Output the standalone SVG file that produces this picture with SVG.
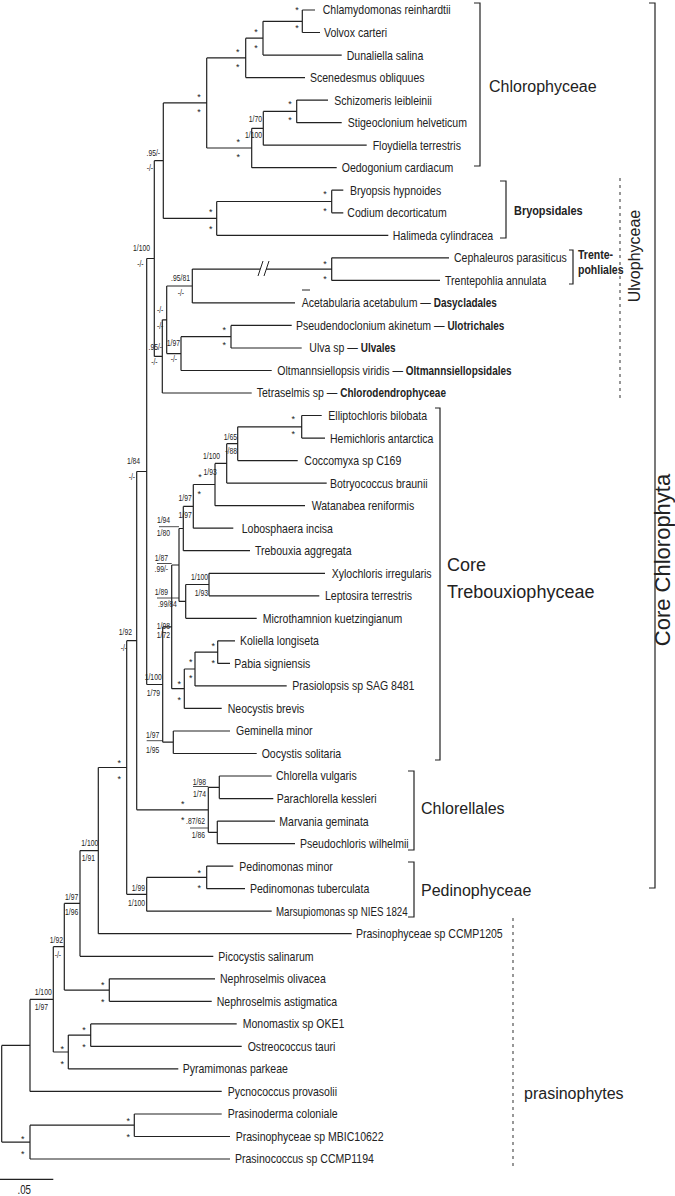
<svg xmlns="http://www.w3.org/2000/svg" width="675" height="1196" viewBox="0 0 675 1196">
<style>
.t{font-family:"Liberation Sans",Arial,sans-serif;font-size:13px;fill:#222;transform-box:fill-box;transform-origin:0 0;transform:scaleX(.81)}
.b{font-weight:bold}
.bt{font-weight:bold;font-size:12.3px}
.s{font-family:"Liberation Sans",Arial,sans-serif;font-size:8.5px;fill:#222;text-anchor:end;transform-box:fill-box;transform-origin:100% 0;transform:scaleX(.8)}
.st{font-family:"Liberation Sans",Arial,sans-serif;font-size:9px;fill:#222;text-anchor:middle}
.g{font-family:"Liberation Sans",Arial,sans-serif;font-size:16px;fill:#222}
.br{fill:none;stroke:#222;stroke-width:1.2}
.dot{fill:none;stroke:#444;stroke-width:1.1;stroke-dasharray:3 4}
</style>
<rect width="675" height="1196" fill="#fff"/>
<g id="connectors" class="br">
<path d="M302.3,10H315M302.3,32.5H320M263,55.1H341.7M245.7,77.6H305M296.7,100.1H328M296.7,122.7H341.7M263.3,145.2H366.7M251.7,167.7H336.7M331.7,190.2H343.3M331.7,212.8H343.3M216.7,235.3H388.3M331.7,257.8H449M331.7,280.4H440M192.3,302.9H295M231,325.4H291.7M231,348H301.7M181,370.5H271.7M162.3,393H251.7M301.7,415.5H321.7M301.7,438.1H325M237.7,460.6H297.7M226.7,483.1H326.7M215,505.7H305M193.3,528.2H233.3M183.3,550.7H250M209,573.3H325M209,595.8H319.3M185.7,618.3H256.7M217.7,640.8H235M217.7,663.4H230M195,685.9H286.7M184.3,708.4H221.7M173.3,731H230M173.3,753.5H256.7M219.3,776H271.7M219.3,798.6H273.3M217.3,821.1H275M217.3,843.6H295M206.7,866.1H233.3M206.7,888.7H245M146.7,911.2H271.7M98.3,933.7H351.7M80,956.3H213.3M109.3,978.8H215M109.3,1001.3H211.7M90.7,1023.9H236.7M90.7,1046.4H241.7M68.3,1068.9H178.3M30,1091.4H221.7M134.3,1114H221.7M134.3,1136.5H230M30,1159H230"/>
<path d="M302.3,10V32.5M263,21.3H302.3M263,21.3V55.1M245.7,38.2H263M245.7,38.2V77.6M206.7,57.9H245.7M296.7,100.1V122.7M263.3,111.4H296.7M263.3,111.4V145.2M251.7,128.3H263.3M251.7,128.3V167.7M206.7,148H251.7M206.7,57.9V148M163.3,102.9H206.7M331.7,190.2V212.8M216.7,201.5H331.7M216.7,201.5V235.3M163.3,218.4H216.7M163.3,102.9V218.4M154.3,160.7H163.3M331.7,257.8V280.4M192.3,269.1H260M266,269.1H331.7M192.3,269.1V302.9M166.7,286H192.3M231,325.4V348M181,336.7H231M181,336.7V370.5M166.7,353.6H181M166.7,286V353.6M162.3,319.8H166.7M162.3,319.8V393M154.3,356.4H162.3M154.3,160.7V356.4M146.7,258.5H154.3"/>
<path d="M301.7,415.5V438.1M237.7,426.8H301.7M237.7,426.8V460.6M226.7,443.7H237.7M226.7,443.7V483.1M215,463.4H226.7M215,463.4V505.7M193.3,484.5H215M193.3,484.5V528.2M183.3,506.4H193.3M183.3,506.4V550.7M179,528.5H183.3M209,573.3V595.8M185.7,584.5H209M185.7,584.5V618.3M179,601.4H185.7M179,528.5V601.4M171.7,565H179M217.7,640.8V663.4M195,652.1H217.7M195,652.1V685.9M184.3,669H195M184.3,669V708.4M171.7,688.7H184.3M171.7,565V688.7M162.7,626.8H171.7M173.3,731V753.5M162.7,742.2H173.3M162.7,626.8V742.2M146.7,684.5H162.7M146.7,258.5V684.5M136.7,471.5H146.7"/>
<path d="M219.3,776V798.6M208.3,787.3H219.3M217.3,821.1V843.6M208.3,832.3H217.3M208.3,787.3V832.3M136.7,809.8H208.3M136.7,471.5V809.8M126.7,640.7H136.7M206.7,866.1V888.7M146.7,877.4H206.7M146.7,877.4V911.2M126.7,894.3H146.7M126.7,640.7V894.3M98.3,767.5H126.7M98.3,767.5V933.7M80,850.6H98.3M80,850.6V956.3M64.3,903.4H80M109.3,978.8V1001.3M64.3,990.1H109.3M64.3,903.4V990.1M53.3,946.7H64.3M90.7,1023.9V1046.4M68.3,1035.1H90.7M68.3,1035.1V1068.9M53.3,1052H68.3M53.3,946.7V1052M30,999.4H53.3M30,999.4V1091.4M1.7,1045.4H30M134.3,1114V1136.5M30,1125.2H134.3M30,1125.2V1159M1.7,1142.1H30M1.7,1045.4V1142.1"/>
<path d="M258,276L263,261M264,276L269,261" stroke-width="1"/>
<path d="M302,290H310" stroke-width="1"/>
<path d="M159,526.7H179M157,563.5H171.7M157,598H179M146.7,740.7H162.7M193,786.5H208.3M190,828H208.3" stroke-width="0.8"/>
<path d="M0,1179.3H53.3"/>
</g>
<g id="leaves">
<text class="t" x="322.7" y="14.5">Chlamydomonas reinhardtii</text>
<text class="t" x="324" y="37">Volvox carteri</text>
<text class="t" x="346.7" y="59.6">Dunaliella salina</text>
<text class="t" x="310" y="82.1">Scenedesmus obliquues</text>
<text class="t" x="334.3" y="104.6">Schizomeris leibleinii</text>
<text class="t" x="347.7" y="127.2">Stigeoclonium helveticum</text>
<text class="t" x="372.7" y="149.7">Floydiella terrestris</text>
<text class="t" x="341.7" y="172.2">Oedogonium cardiacum</text>
<text class="t" x="350" y="194.7">Bryopsis hypnoides</text>
<text class="t" x="347.3" y="217.3">Codium decorticatum</text>
<text class="t" x="392.7" y="239.8">Halimeda cylindracea</text>
<text class="t" x="454" y="262.3">Cephaleuros parasiticus</text>
<text class="t" x="445" y="284.9">Trentepohlia annulata</text>
<text class="t" x="301.7" y="307.4">Acetabularia acetabulum — <tspan class="bt">Dasycladales</tspan></text>
<text class="t" x="296" y="329.9">Pseudendoclonium akinetum — <tspan class="bt">Ulotrichales</tspan></text>
<text class="t" x="309.3" y="352.5">Ulva sp — <tspan class="bt">Ulvales</tspan></text>
<text class="t" x="277.3" y="375">Oltmannsiellopsis viridis — <tspan class="bt">Oltmannsiellopsidales</tspan></text>
<text class="t" x="256.7" y="397.5">Tetraselmis sp — <tspan class="bt">Chlorodendrophyceae</tspan></text>
<text class="t" x="328.3" y="420">Elliptochloris bilobata</text>
<text class="t" x="330" y="442.6">Hemichloris antarctica</text>
<text class="t" x="304.3" y="465.1">Coccomyxa sp C169</text>
<text class="t" x="330" y="487.6">Botryococcus braunii</text>
<text class="t" x="311.7" y="510.2">Watanabea reniformis</text>
<text class="t" x="241.7" y="532.7">Lobosphaera incisa</text>
<text class="t" x="255" y="555.2">Trebouxia aggregata</text>
<text class="t" x="331.7" y="577.8">Xylochloris irregularis</text>
<text class="t" x="325" y="600.3">Leptosira terrestris</text>
<text class="t" x="262.7" y="622.8">Microthamnion kuetzingianum</text>
<text class="t" x="240" y="645.3">Koliella longiseta</text>
<text class="t" x="234.3" y="667.9">Pabia signiensis</text>
<text class="t" x="292.3" y="690.4">Prasiolopsis sp SAG 8481</text>
<text class="t" x="227.7" y="712.9">Neocystis brevis</text>
<text class="t" x="236" y="735.5">Geminella minor</text>
<text class="t" x="261.7" y="758">Oocystis solitaria</text>
<text class="t" x="276" y="780.5">Chlorella vulgaris</text>
<text class="t" x="276.7" y="803.1">Parachlorella kessleri</text>
<text class="t" x="279.3" y="825.6">Marvania geminata</text>
<text class="t" x="300" y="848.1">Pseudochloris wilhelmii</text>
<text class="t" x="239.3" y="870.6">Pedinomonas minor</text>
<text class="t" x="250" y="893.2">Pedinomonas tuberculata</text>
<text class="t" x="276" y="915.7" style="font-size:12px">Marsupiomonas sp NIES 1824</text>
<text class="t" x="356" y="938.2">Prasinophyceae sp CCMP1205</text>
<text class="t" x="218.3" y="960.8">Picocystis salinarum</text>
<text class="t" x="220" y="983.3">Nephroselmis olivacea</text>
<text class="t" x="216.7" y="1005.8">Nephroselmis astigmatica</text>
<text class="t" x="242.7" y="1028.4">Monomastix sp OKE1</text>
<text class="t" x="247.7" y="1050.9">Ostreococcus tauri</text>
<text class="t" x="182.7" y="1073.4">Pyramimonas parkeae</text>
<text class="t" x="227.7" y="1095.9">Pycnococcus provasolii</text>
<text class="t" x="227.7" y="1118.5">Prasinoderma coloniale</text>
<text class="t" x="235.7" y="1141">Prasinophyceae sp MBIC10622</text>
<text class="t" x="235" y="1163.5">Prasinococcus sp CCMP1194</text>
</g>
<g id="support-stars" class="st">
<text x="297" y="13.3">*</text><text x="297" y="31">*</text>
<text x="256" y="35">*</text><text x="256" y="50.7">*</text>
<text x="237.7" y="55">*</text><text x="237.7" y="70">*</text>
<text x="199" y="100">*</text><text x="199" y="115">*</text>
<text x="290" y="106.7">*</text><text x="290" y="123">*</text>
<text x="238.3" y="145">*</text><text x="238.3" y="160">*</text>
<text x="325" y="196.7">*</text><text x="325" y="214.3">*</text>
<text x="210.7" y="215">*</text><text x="210.7" y="231.7">*</text>
<text x="325" y="266.7">*</text><text x="325" y="282.3">*</text>
<text x="224.3" y="332.7">*</text><text x="224.3" y="348.3">*</text>
<text x="293.3" y="421.7">*</text><text x="293.3" y="436.7">*</text>
<text x="200" y="480">*</text><text x="199.3" y="497.3">*</text>
<text x="213.3" y="649.3">*</text><text x="213.3" y="666">*</text>
<text x="190.7" y="665">*</text><text x="190.7" y="681">*</text>
<text x="179.3" y="686.7">*</text><text x="179.3" y="702.7">*</text>
<text x="182.7" y="806.7">*</text><text x="182.7" y="823.3">*</text>
<text x="119.3" y="766">*</text><text x="119.3" y="781.7">*</text>
<text x="199.3" y="875.7">*</text><text x="199.3" y="891">*</text>
<text x="102.7" y="988.3">*</text><text x="102.7" y="1005">*</text>
<text x="84" y="1033.3">*</text><text x="84" y="1050">*</text>
<text x="62.3" y="1052.3">*</text><text x="62.3" y="1066.7">*</text>
<text x="128.3" y="1124.3">*</text><text x="128.3" y="1140">*</text>
<text x="22.7" y="1141.7">*</text><text x="22.7" y="1156.7">*</text>
</g>
<g id="support-values">
<text class="s" x="262" y="122">1/70</text><text class="s" x="262" y="138">1/100</text>
<text class="s" x="160" y="156.3">.95/-</text><text class="s" x="153" y="171">-/-</text>
<text class="s" x="150" y="251.3">1/100</text><text class="s" x="143.5" y="267">-/-</text>
<text class="s" x="190" y="281.3">.95/81</text><text class="s" x="184" y="296.3">-/-</text>
<text class="s" x="163.3" y="312.7">-/-</text><text class="s" x="163.3" y="329">-/-</text>
<text class="s" x="162" y="349.7">.95/-</text><text class="s" x="157.5" y="365">-/-</text>
<text class="s" x="180" y="346.3">1/97</text><text class="s" x="177" y="362">-/-</text>
<text class="s" x="140" y="464.5">1/84</text><text class="s" x="135" y="480">-/-</text>
<text class="s" x="237" y="439.7">1/65</text><text class="s" x="237" y="454">-/88</text>
<text class="s" x="220" y="459">1/100</text><text class="s" x="216.7" y="474.7">1/93</text>
<text class="s" x="191.7" y="501.3">1/97</text><text class="s" x="191.7" y="518">1/97</text>
<text class="s" x="170" y="523">1/94</text><text class="s" x="170" y="536.3">1/80</text>
<text class="s" x="168" y="561.3">1/87</text><text class="s" x="168" y="572.3">.99/-</text>
<text class="s" x="168" y="594.7">1/89</text><text class="s" x="176.7" y="607">.99/84</text>
<text class="s" x="208" y="579.7">1/100</text><text class="s" x="208" y="596.3">1/93</text>
<text class="s" x="170" y="629">1/98</text><text class="s" x="170" y="638.5">1/72</text>
<text class="s" x="161.7" y="679.7">1/100</text><text class="s" x="160" y="695.7">1/79</text>
<text class="s" x="159.3" y="738">1/97</text><text class="s" x="159.3" y="753">1/95</text>
<text class="s" x="206" y="784.7">1/98</text><text class="s" x="206" y="797">1/74</text>
<text class="s" x="205" y="824">.87/62</text><text class="s" x="205" y="838">1/86</text>
<text class="s" x="132" y="634.7">1/92</text><text class="s" x="127" y="650.7">-/-</text>
<text class="s" x="145" y="890.7">1/99</text><text class="s" x="145" y="905.7">1/100</text>
<text class="s" x="98.3" y="846.3">1/100</text><text class="s" x="95" y="861.3">1/91</text>
<text class="s" x="78.3" y="899.7">1/97</text><text class="s" x="78.3" y="914.7">1/96</text>
<text class="s" x="63" y="943">1/92</text><text class="s" x="61" y="958">-/-</text>
<text class="s" x="51.7" y="995.3">1/100</text><text class="s" x="48" y="1009.7">1/97</text>
</g>
<g id="scale">
<text class="t" x="17.5" y="1194" style="font-size:12px">.05</text>
</g>
<g id="clade-chlorophyceae">
<path class="br" d="M474,3H480V166H474"/>
<text class="g" x="489" y="92">Chlorophyceae</text>
</g>
<g id="clade-bryopsidales">
<path class="br" d="M500,181H506V238H500"/>
<text class="t b" x="514" y="215" style="font-size:13.5px">Bryopsidales</text>
</g>
<g id="clade-trentepohliales">
<path class="br" d="M569,250H573V284H569"/>
<text class="t b" x="578" y="259" style="font-size:13px">Trente-</text>
<text class="t b" x="578" y="274" style="font-size:13px">pohliales</text>
</g>
<g id="clade-ulvophyceae">
<path class="dot" d="M620,178V400"/>
<text class="g" transform="translate(640,256) rotate(-90)" text-anchor="middle">Ulvophyceae</text>
</g>
<g id="clade-core-trebouxiophyceae">
<path class="br" d="M435,408H440V760H435"/>
<text class="g" x="447" y="571" style="font-size:18px">Core</text>
<text class="g" x="447" y="598" style="font-size:18px">Trebouxiophyceae</text>
</g>
<g id="clade-chlorellales">
<path class="br" d="M408,771H414V850H408"/>
<text class="g" x="421" y="814">Chlorellales</text>
</g>
<g id="clade-pedinophyceae">
<path class="br" d="M408,862H414V917H408"/>
<text class="g" x="421" y="896">Pedinophyceae</text>
</g>
<g id="clade-core-chlorophyta">
<path class="br" d="M649,3H655V888H649"/>
<text class="g" transform="translate(670,560) rotate(-90)" text-anchor="middle" style="font-size:22px">Core Chlorophyta</text>
</g>
<g id="clade-prasinophytes">
<path class="dot" d="M513,918V1170"/>
<text class="g" x="524" y="1099">prasinophytes</text>
</g>
</svg>
